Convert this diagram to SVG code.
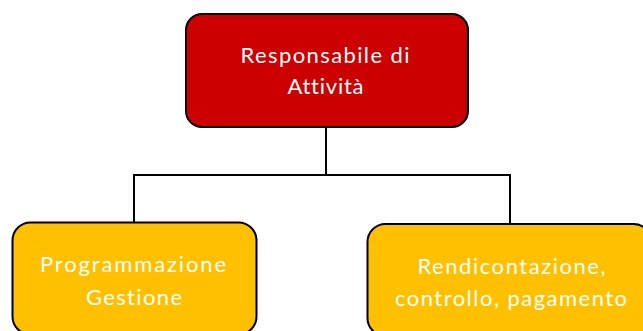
<svg xmlns="http://www.w3.org/2000/svg" width="643" height="331" viewBox="0 0 643 331">
<style>
.box{stroke:#000;stroke-width:2}
.red{fill:#CC0000}
.yel{fill:#FFC000}
.t{font-family:Lato,"Open Sans","Liberation Sans",sans-serif;font-size:22px;fill:#fff;text-anchor:middle;font-variant-ligatures:none}
.conn{fill:none;stroke:#000;stroke-width:2}
</style>
<rect width="643" height="331" fill="#fff"/>
<g id="connectors">
<path class="conn" d="M326,127 V175 H134 V222.5"/>
<path class="conn" d="M326,175 H510 V224"/>
</g>
<g id="node-responsabile">
<rect class="box red" x="186" y="14" width="282" height="113" rx="16"/>
<text class="t" x="325" y="63" textLength="169" lengthAdjust="spacing">Responsabile di</text>
<text class="t" x="325.5" y="94" textLength="76" lengthAdjust="spacing">Attività</text>
</g>
<g id="node-programmazione">
<rect class="box yel" x="12.5" y="222.5" width="244" height="112" rx="18"/>
<text class="t" x="133" y="272" textLength="186" lengthAdjust="spacing">Programmazione</text>
<text class="t" x="134" y="304.5" textLength="96" lengthAdjust="spacing">Gestione</text>
</g>
<g id="node-rendicontazione">
<rect class="box yel" x="367.5" y="224" width="284" height="112" rx="18"/>
<text class="t" x="511.5" y="274" textLength="188" lengthAdjust="spacing">Rendicontazione,</text>
<text class="t" x="511" y="305.5" textLength="232" lengthAdjust="spacing">controllo, pagamento</text>
</g>
</svg>
